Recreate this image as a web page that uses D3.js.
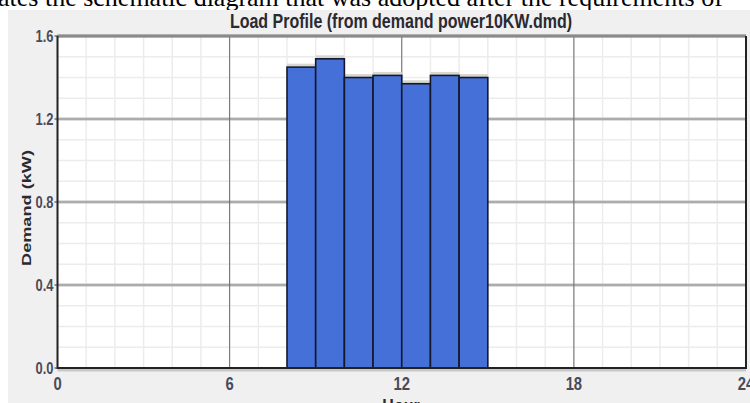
<!DOCTYPE html>
<html>
<head>
<meta charset="utf-8">
<script src="https://cdn.jsdelivr.net/npm/d3@7"></script>
<style>
  html, body { margin: 0; padding: 0; background: #ffffff; }
  svg { display: block; }
</style>
</head>
<body>
<svg id="chart" width="750" height="403"></svg>
<script>
// ---- data ----
const pageText = "ates the schematic diagram that was adopted after the requirements of";
const chartTitle = "Load Profile (from demand power10KW.dmd)";
const xLabel = "Hour";
const yLabel = "Demand (kW)";
const hours = [8, 9, 10, 11, 12, 13, 14];
const demand = [1.45, 1.49, 1.40, 1.41, 1.37, 1.41, 1.40];
const xTicks = [0, 6, 12, 18, 24];
const xTickLabels = ["0", "6", "12", "18", "24"];
const yTicks = [0.0, 0.4, 0.8, 1.2, 1.6];
const yTickLabels = ["0.0", "0.4", "0.8", "1.2", "1.6"];

// ---- layout ----
const W = 750, H = 403;
const L = 57.5, R = 746, T = 36, B = 368;
const svg = d3.select("#chart");
const sans = "'Liberation Sans', Arial, sans-serif";

const x = d3.scaleLinear().domain([0, 24]).range([L, R]);
const y = d3.scaleLinear().domain([0, 1.6]).range([B, T]);

// condensed text helper (the screenshot is stretched vertically)
function ctext(parent, px, py, str, size, sx, anchor, color) {
  return parent.append("text")
    .attr("transform", `translate(${px},${py}) scale(${sx},1)`)
    .attr("text-anchor", anchor)
    .attr("font-family", sans).attr("font-weight", "bold").attr("font-size", size)
    .attr("fill", color).text(str);
}

// page text (document above the figure)
svg.append("text").attr("x", -2).attr("y", 6)
  .attr("font-family", "'Liberation Serif', 'Times New Roman', serif")
  .attr("font-size", 26).attr("fill", "#000").text(pageText);

// gray window background
svg.append("rect").attr("x", 8).attr("y", 10).attr("width", W - 8).attr("height", H - 10)
  .attr("fill", "#f0f0f0");

// plot background
svg.append("rect").attr("x", L).attr("y", T).attr("width", R - L).attr("height", B - T)
  .attr("fill", "#ffffff");

// minor gridlines
const g = svg.append("g");
g.selectAll("line.vminor").data(d3.range(1, 24)).join("line")
  .attr("x1", d => x(d)).attr("x2", d => x(d)).attr("y1", T).attr("y2", B)
  .attr("stroke", "#ececec").attr("stroke-width", 1.5);
g.selectAll("line.hminor").data(d3.range(1, 16).map(d => d / 10)).join("line")
  .attr("x1", L).attr("x2", R).attr("y1", d => y(d)).attr("y2", d => y(d))
  .attr("stroke", "#ececec").attr("stroke-width", 1.5);

// major horizontal gridlines
g.selectAll("line.hmajor").data(yTicks.slice(1)).join("line")
  .attr("x1", L).attr("x2", R).attr("y1", d => y(d)).attr("y2", d => y(d))
  .attr("stroke", "#bdbdbd").attr("stroke-width", 3);
g.selectAll("line.hmajor2").data(yTicks.slice(1)).join("line")
  .attr("x1", L).attr("x2", R).attr("y1", d => y(d)).attr("y2", d => y(d))
  .attr("stroke", "#9a9a9a").attr("stroke-width", 1);

// major vertical gridlines
g.selectAll("line.vmajor").data(xTicks.slice(1, -1)).join("line")
  .attr("x1", d => x(d)).attr("x2", d => x(d)).attr("y1", T).attr("y2", B)
  .attr("stroke", "#6a6a6a").attr("stroke-width", 1);

// bars
const bars = svg.append("g");
bars.selectAll("line.shadow").data(hours).join("line")
  .attr("x1", (d) => x(d)).attr("x2", d => x(d + 1))
  .attr("y1", (d, i) => y(demand[i]) - 2).attr("y2", (d, i) => y(demand[i]) - 2)
  .attr("stroke", "#d8d8d0").attr("stroke-width", 3);
bars.selectAll("rect").data(hours).join("rect")
  .attr("x", d => x(d)).attr("width", d => x(d + 1) - x(d))
  .attr("y", (d, i) => y(demand[i])).attr("height", (d, i) => y(0) - y(demand[i]))
  .attr("fill", "#4470d8").attr("stroke", "#14182a").attr("stroke-width", 1.6);

// frame
svg.append("line").attr("x1", L).attr("x2", R).attr("y1", T).attr("y2", T)
  .attr("stroke", "#8a8a8a").attr("stroke-width", 3);
svg.append("line").attr("x1", L).attr("x2", R).attr("y1", B + 2).attr("y2", B + 2)
  .attr("stroke", "#c8c8c8").attr("stroke-width", 3);
svg.append("line").attr("x1", L).attr("x2", R).attr("y1", B).attr("y2", B)
  .attr("stroke", "#222").attr("stroke-width", 2);
svg.append("line").attr("x1", L).attr("x2", L).attr("y1", T).attr("y2", B + 1)
  .attr("stroke", "#222").attr("stroke-width", 2);
svg.append("line").attr("x1", R).attr("x2", R).attr("y1", T).attr("y2", B + 1)
  .attr("stroke", "#222").attr("stroke-width", 2);

// y ticks
const yAxis = svg.append("g");
yAxis.selectAll("line").data(yTicks).join("line")
  .attr("x1", L - 3).attr("x2", L).attr("y1", d => y(d)).attr("y2", d => y(d))
  .attr("stroke", "#333").attr("stroke-width", 1);
yTicks.forEach((d, i) => ctext(yAxis, L - 4, y(d) + 6, yTickLabels[i], 17, 0.76, "end", "#4a4a5a"));

// x ticks
const xAxis = svg.append("g");
xTicks.forEach((d, i) => ctext(xAxis, x(d), 390, xTickLabels[i], 19, 0.78, "middle", "#4a4a5a"));

// title
ctext(svg, 401, 28, chartTitle, 20, 0.8, "middle", "#2a2a30");

// axis labels
svg.append("text").attr("transform", `translate(31, ${(T + B) / 2 + 6}) rotate(-90)`)
  .attr("text-anchor", "middle")
  .attr("font-family", sans).attr("font-weight", "bold").attr("font-size", 12)
  .attr("textLength", 116).attr("lengthAdjust", "spacingAndGlyphs")
  .attr("fill", "#2a2a30").text(yLabel);
ctext(svg, 401, 413, xLabel, 20, 0.8, "middle", "#2a2a30");
</script>
</body>
</html>
